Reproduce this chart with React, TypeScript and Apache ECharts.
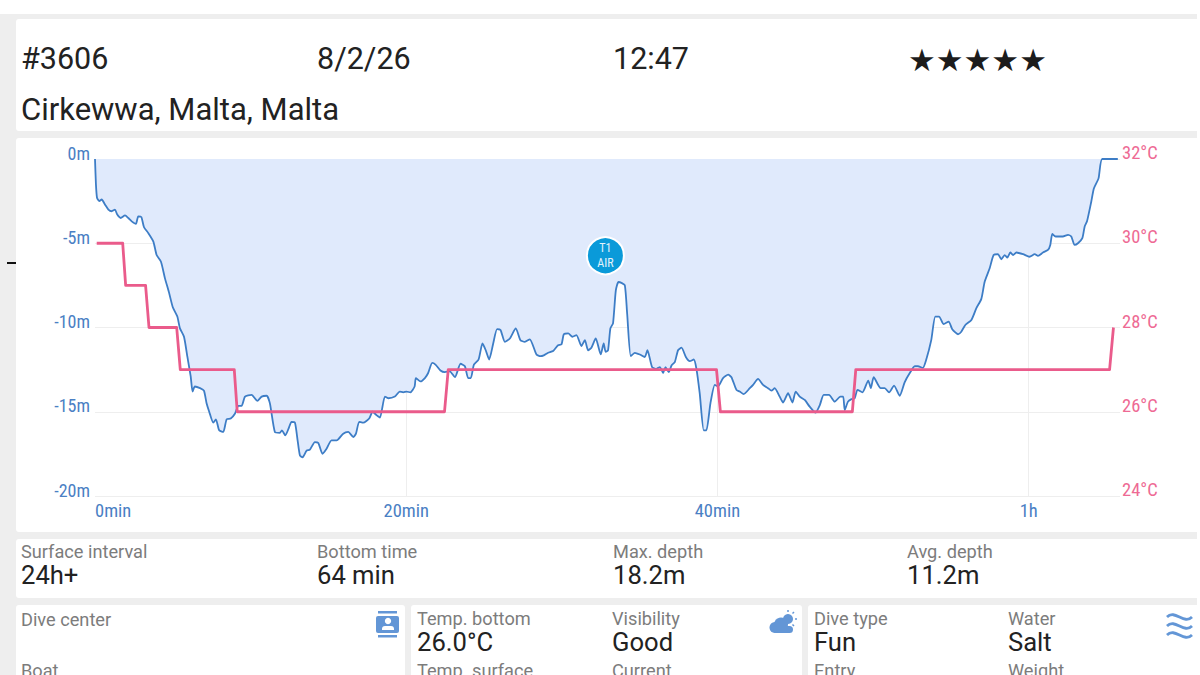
import React, { useEffect, useRef } from "react";
import * as echarts from "echarts";

// [minutes, depth in metres]
const depthProfile: number[][] = [
[0,0],[0.06,1.5],[0.13,2.3],[0.28,2.5],[0.43,2.4],[0.64,2.7],[0.86,3.0],[1.07,3.1],[1.28,3.0],[1.43,3.3],[1.65,3.5],[1.93,3.35],[2.14,3.5],[2.36,3.7],[2.63,3.85],[2.78,3.4],[2.98,3.45],[3.15,4.05],[3.43,4.4],[3.75,4.9],[3.96,5.7],[4.24,6.1],[4.5,7.1],[4.75,7.9],[5.0,8.8],[5.29,9.35],[5.46,10.05],[5.72,10.55],[5.93,11.7],[6.15,12.9],[6.27,13.8],[6.42,13.5],[6.75,13.6],[7.0,13.75],[7.17,14.5],[7.34,15.0],[7.6,15.65],[7.77,15.45],[7.98,16.1],[8.24,16.2],[8.46,15.45],[8.72,15.4],[9.0,15.1],[9.21,14.65],[9.42,14.65],[9.64,14.1],[10.06,14.0],[10.43,14.35],[10.71,14.1],[11.03,14.05],[11.24,14.5],[11.56,16.2],[11.88,16.25],[12.01,16.1],[12.23,16.4],[12.44,16.0],[12.63,15.6],[12.85,15.65],[13.02,16.7],[13.17,17.6],[13.34,17.7],[13.6,17.3],[13.81,17.25],[14.13,16.8],[14.35,16.85],[14.62,17.5],[14.88,17.2],[15.2,16.7],[15.53,16.7],[15.95,16.3],[16.27,16.2],[16.6,16.5],[16.77,16.3],[16.98,15.6],[17.24,15.65],[17.62,15.4],[17.84,15.0],[18.09,15.2],[18.31,15.35],[18.63,14.1],[18.84,14.2],[19.27,14.1],[19.59,13.8],
[19.81,13.85],[20.03,13.8],[20.26,13.85],[20.54,13.5],[20.62,13.0],[20.92,13.2],[21.2,13.0],[21.41,12.7],[21.67,12.1],[21.88,12.2],[22.2,12.55],[22.48,12.65],[22.8,12.6],[23.13,12.95],[23.49,12.15],[23.77,12.3],[23.98,13.0],[24.15,13.0],[24.35,12.2],[24.65,11.9],[24.9,10.95],[25.11,11.35],[25.33,11.9],[25.59,10.95],[25.84,10.1],[26.06,10.15],[26.34,10.85],[26.66,10.65],[27.04,10.05],[27.34,10.75],[27.62,10.85],[27.94,10.7],[28.37,11.6],[28.63,11.7],[28.84,11.65],[29.12,11.5],[29.44,11.4],[29.76,11.05],[29.98,11.0],[30.13,10.4],[30.41,10.35],[30.68,10.55],[30.94,10.45],[31.26,11.1],[31.48,10.75],[31.69,11.35],[31.9,11.2],[32.18,10.65],[32.5,11.6],[32.69,10.95],[32.82,11.45],[32.97,11.35],[33.12,10.05],[33.29,9.75],[33.47,7.8],[33.64,7.3],[33.83,7.35],[34.05,7.5],[34.2,9.2],[34.43,11.7],[34.69,11.5],[35.01,11.6],[35.33,11.75],[35.5,11.35],[35.8,12.35],[36.08,12.45],[36.3,12.35],[36.51,12.7],[36.66,12.35],[36.87,12.65],[37.05,12.25],[37.26,12.05],[37.47,11.35],[37.69,11.2],[37.97,11.75],[38.22,12.0],[38.48,11.9],[38.65,12.45],[38.86,13.9],[39.12,16.1],[39.29,16.1],[39.55,14.5],[39.83,13.4],[40.04,13.5],[40.36,13.0],[40.69,12.8],[40.9,12.95],[41.22,13.7],[41.43,13.8],[41.69,13.95],[42.08,13.6],[42.29,13.4],[42.61,13.05],[42.93,13.4],[43.25,13.6],[43.47,13.75],[43.68,13.6],[44.0,14.1],[44.22,14.45],[44.54,13.9],[44.82,14.45],[45.03,13.8],[45.29,14.1],
[45.61,14.3],[45.93,14.7],[46.3,15.05],[46.58,14.6],[46.83,14.0],[47.17,14.0],[47.54,14.4],[47.9,14.1],[48.08,14.1],[48.18,14.9],[48.39,14.4],[48.61,14.25],[48.82,14.2],[49.0,13.7],[49.32,13.85],[49.69,13.15],[49.86,13.6],[50.04,12.95],[50.49,13.6],[50.75,13.6],[51.03,13.85],[51.35,13.45],[51.71,14.05],[52.03,13.25],[52.36,12.7],[52.68,12.3],[52.88,12.3],[53.2,12.4],[53.42,11.9],[53.74,10.75],[54.0,9.35],[54.24,9.35],[54.54,9.8],[54.86,9.65],[55.09,10.1],[55.46,10.4],[55.67,10.25],[55.93,9.85],[56.32,9.55],[56.64,8.85],[56.96,8.3],[57.17,7.3],[57.49,6.5],[57.75,5.7],[58.03,5.65],[58.24,5.95],[58.46,5.7],[58.63,5.85],[58.82,5.55],[59.0,5.7],[59.21,5.55],[59.64,5.65],[60.06,5.8],[60.39,5.65],[60.6,5.75],[60.92,5.55],[61.24,5.4],[61.39,5.1],[61.52,4.45],[61.73,4.6],[62.2,4.6],[62.53,4.5],[62.74,4.6],[62.95,5.1],[63.17,5.0],[63.45,4.7],[63.6,4.0],[63.75,3.7],[64.02,2.55],[64.19,1.75],[64.49,1.15],[64.73,0.0],[65.73,0.0],
];

// [minutes, temperature in °C]
const temperatureSteps: number[][] = [
[0.11,30],[1.78,30],[1.97,29],[3.25,29],[3.47,28],[5.25,28],[5.48,27],[8.95,27],[9.14,26],[22.46,26],[22.7,27],[39.94,27],[40.19,26],[48.67,26],[48.89,27],[65.2,27],[65.45,28],
];

const xTicks: Record<number, string> = { 0: "0min", 20: "20min", 40: "40min", 60: "1h" };
const tankMarker = { time: 32.8, depth: -5.74, label: "T1\nAIR" };
const headerRow = ["#3606", "8/2/26", "12:47"];
const rating = "★★★★★";
const place = "Cirkewwa, Malta, Malta";
const stats = [["Surface interval", "24h+"], ["Bottom time", "64 min"], ["Max. depth", "18.2m"], ["Avg. depth", "11.2m"]];
const details = [["Temp. bottom", "26.0°C"], ["Visibility", "Good"], ["Dive type", "Fun"], ["Water", "Salt"]];
const cutOff = ["Dive center", "Boat", "Temp. surface", "Current", "Entry", "Weight"];

const UI = "Roboto";
const NARROW = "'Roboto Condensed', 'DejaVu Sans Condensed', Roboto";

function t(text: string, x: number, y: number, size: number, fill: string, extra: any = {}) {
  return { type: "text", x, y, silent: true, style: { text, x: 0, y: 0, fontFamily: UI, fontSize: size, fill, textVerticalAlign: "middle", verticalAlign: "middle", ...extra } };
}
function card(x: number, y: number, w: number, h: number) {
  return { type: "rect", silent: true, shape: { x, y, width: w, height: h, r: 3 }, style: { fill: "#ffffff" } };
}

export default function App() {
  const ref = useRef<HTMLDivElement>(null);
  useEffect(() => {
    document.body.style.margin = "0";
    const chart = echarts.init(ref.current!, null, { renderer: "svg" });
    const DARK = "#222222", GREY = "#7c7c7c", ICON = "#6396d6";
    const statX = [21, 317, 613, 907];
    const detailX = [417, 612, 814, 1008];
    const cutX = [21, 21, 417, 612, 814, 1008];
    const cutY = [619, 670, 670, 670, 670, 670];
    chart.setOption({
      animation: false,
      backgroundColor: "#eeeeee",
      grid: { left: 95, right: 80, top: 159, bottom: 179 },
      xAxis: {
        type: "value", min: 0, max: 65.87, interval: 20,
        axisLine: { show: false }, axisTick: { show: false },
        splitLine: { show: true, showMinLine: false, showMaxLine: false, lineStyle: { color: "#eeeeee", width: 1 } },
        axisLabel: { color: "#4a80c4", fontFamily: NARROW, fontSize: 18.5, margin: 5, alignMinLabel: "left", showMaxLabel: false,
          formatter: (v: number) => xTicks[v] ?? "" },
      },
      yAxis: [
        { type: "value", min: -20, max: 0, interval: 5, axisLine: { show: false }, axisTick: { show: false },
          splitLine: { show: true, lineStyle: { color: "#eeeeee", width: 1 } },
          axisLabel: { color: "#4a80c4", fontFamily: NARROW, fontSize: 18, margin: 5, verticalAlign: "bottom", lineHeight: 12, formatter: (v: number) => `${v}m` } },
        { type: "value", min: 24, max: 32, interval: 2, position: "right", axisLine: { show: false }, axisTick: { show: false },
          splitLine: { show: false },
          axisLabel: { color: "#ee6a94", fontFamily: NARROW, fontSize: 18.5, margin: 2, verticalAlign: "bottom", lineHeight: 12, formatter: (v: number) => `${v}°C` } },
      ],
      graphic: { elements: [
        { type: "rect", silent: true, z: -10, shape: { x: 0, y: 0, width: 1200, height: 14 }, style: { fill: "#ffffff" } },
        { type: "rect", silent: true, z: -10, shape: { x: 7, y: 262, width: 10, height: 2 }, style: { fill: "#111111" } },
        { ...card(16, 19, 1184, 112), z: -10 }, { ...card(16, 138, 1184, 394), z: -10 }, { ...card(16, 539, 1184, 59), z: -10 },
        { ...card(16, 605, 389, 80), z: -10 }, { ...card(411, 605, 391, 80), z: -10 }, { ...card(808, 605, 392, 80), z: -10 },
        { type: "rect", silent: true, z: -9, shape: { x: 1197, y: 14, width: 3, height: 661 }, style: { fill: "#ffffff" } },
        t(headerRow[0], 21, 58, 30.5, DARK), t(headerRow[1], 317, 58, 30.5, DARK), t(headerRow[2], 613, 58, 30.5, DARK),
        t(rating, 908, 60, 31, "#1c1c1c", { fontFamily: "'DejaVu Sans'" }),
        t(place, 21, 109, 31, DARK),
        ...stats.flatMap(([a, b], i) => [t(a, statX[i], 551, 18.2, GREY), t(b, statX[i], 575, 25.6, DARK)]),
        ...details.flatMap(([a, b], i) => [t(a, detailX[i], 618, 18.2, GREY), t(b, detailX[i], 642, 25.6, DARK)]),
        ...cutOff.map((a, i) => t(a, cutX[i], cutY[i], 18.2, GREY)),
        // contact-book icon
        { type: "rect", silent: true, shape: { x: 376, y: 616, width: 23, height: 17, r: 2 }, style: { fill: ICON } },
        { type: "rect", silent: true, shape: { x: 378, y: 611, width: 19, height: 2.5 }, style: { fill: ICON } },
        { type: "rect", silent: true, shape: { x: 378, y: 635, width: 19, height: 2.5 }, style: { fill: ICON } },
        { type: "circle", silent: true, shape: { cx: 388, cy: 621, r: 3.2 }, style: { fill: "#ffffff" } },
        { type: "rect", silent: true, shape: { x: 382, y: 626, width: 12, height: 4, r: [3, 3, 0, 0] }, style: { fill: "#ffffff" } },
        // cloud and sun icon
        { type: "circle", silent: true, shape: { cx: 788, cy: 619, r: 5 }, style: { fill: ICON } },
        { type: "line", silent: true, shape: { x1: 788, y1: 610, x2: 788, y2: 612 }, style: { stroke: ICON, lineWidth: 1.5 } },
        { type: "line", silent: true, shape: { x1: 794, y1: 612, x2: 792.5, y2: 613.5 }, style: { stroke: ICON, lineWidth: 1.5 } },
        { type: "line", silent: true, shape: { x1: 797, y1: 619, x2: 795, y2: 619 }, style: { stroke: ICON, lineWidth: 1.5 } },
        { type: "line", silent: true, shape: { x1: 794, y1: 626, x2: 792.5, y2: 624.5 }, style: { stroke: ICON, lineWidth: 1.5 } },
        { type: "circle", silent: true, shape: { cx: 775, cy: 627.5, r: 5.5 }, style: { fill: ICON } },
        { type: "circle", silent: true, shape: { cx: 781, cy: 624.5, r: 7 }, style: { fill: ICON } },
        { type: "rect", silent: true, shape: { x: 773, y: 626, width: 20, height: 7, r: 3.5 }, style: { fill: ICON } },
        // waves icon
        ...[0, 9, 18].map((d) => ({ type: "bezierCurve", silent: true,
          shape: { x1: 1167, y1: 617 + d, cpx1: 1175, cpy1: 609 + d, cpx2: 1184, cpy2: 625 + d, x2: 1192, y2: 617 + d },
          style: { stroke: ICON, lineWidth: 2.8, fill: "none" } })),
      ] },
      series: [
        { type: "line", name: "Depth", yAxisIndex: 0, symbol: "none", z: 2, clip: false, smooth: 0.2,
          data: depthProfile.map(([m, d]) => [m, -d]),
          lineStyle: { color: "#3d7dc6", width: 1.8, join: "round" },
          areaStyle: { color: "#e0eafc", origin: "end", opacity: 1 },
          markPoint: { symbol: "circle", symbolSize: 37, silent: true,
            itemStyle: { color: "#0a9ad9", borderColor: "#ffffff", borderWidth: 2 },
            label: { show: true, position: "inside", formatter: tankMarker.label, color: "#e4f3fb", fontFamily: NARROW, fontSize: 12, lineHeight: 15 },
            data: [{ coord: [tankMarker.time, tankMarker.depth] }] } },
        { type: "line", name: "Temperature", yAxisIndex: 1, symbol: "none", z: 3,
          data: temperatureSteps,
          lineStyle: { color: "#ea5b8b", width: 2.8, join: "round" } },
      ],
    });
    return () => chart.dispose();
  }, []);
  return (
    <>
      <style>{`text[fill="#4a80c4"], text[fill="#ee6a94"] { font-stretch: 75% !important; }`}</style>
      <div ref={ref} style={{ position: "fixed", left: 0, top: 0, width: 1200, height: 675 }} />
    </>
  );
}
